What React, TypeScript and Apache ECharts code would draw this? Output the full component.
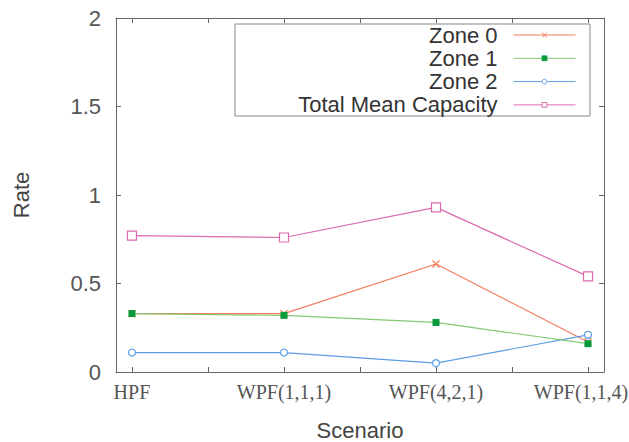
import React, { useEffect, useRef } from "react";
import * as echarts from "echarts";

const categories = ["HPF", "WPF(1,1,1)", "WPF(4,2,1)", "WPF(1,1,4)"];
const zone0 = [0.33, 0.33, 0.61, 0.17];
const zone1 = [0.33, 0.32, 0.28, 0.16];
const zone2 = [0.11, 0.11, 0.05, 0.21];
const totalMean = [0.77, 0.76, 0.93, 0.54];
const seriesNames = ["Zone 0", "Zone 1", "Zone 2", "Total Mean Capacity"];

const toPairs = (arr: number[]) => arr.map((v, i) => [i, v]);

export default function App() {
  const ref = useRef<HTMLDivElement>(null);
  useEffect(() => {
    if (!ref.current) return;
    const chart = echarts.init(ref.current, null, { renderer: "svg" });
    const axisColor = "#666";
    const xTickVals: number[] = [];
    for (let i = 0; i <= (categories.length - 1) * 2; i++) xTickVals.push(i / 2);
    const sans = "Liberation Sans";
    const serif = "Liberation Serif";
    const frameLine = { show: true, onZero: false, lineStyle: { color: axisColor, width: 1 } };
    const xMin = -0.105;
    const xMax = 3.105;
    chart.setOption({
      animation: false,
      backgroundColor: "#fff",
      grid: { left: 116, top: 18, right: 25, bottom: 70, containLabel: false, outerBoundsMode: "none" },
      xAxis: [
        {
          type: "value",
          min: xMin,
          max: xMax,
          axisLine: frameLine,
          axisTick: { show: true, inside: true, length: 5, customValues: xTickVals, lineStyle: { color: axisColor } },
          splitLine: { show: false },
          axisLabel: {
            customValues: categories.map((_, i) => i),
            formatter: (v: number) => {
              const i = Math.round(v);
              const name = categories[i] ?? "";
              return i === categories.length - 1 ? `{last|${name}}` : name;
            },
            fontFamily: serif,
            fontSize: 20,
            color: "#555",
            margin: 10,
            rich: {
              last: { fontFamily: serif, fontSize: 20, color: "#555", padding: [0, 14, 0, 0] },
            },
          },
        },
        {
          type: "value",
          position: "top",
          min: xMin,
          max: xMax,
          axisLine: frameLine,
          axisTick: { show: true, inside: true, length: 5, customValues: xTickVals, lineStyle: { color: axisColor } },
          splitLine: { show: false },
          axisLabel: { show: false },
        },
      ],
      yAxis: [
        {
          type: "value",
          min: 0,
          max: 2,
          interval: 0.5,
          axisLine: frameLine,
          axisTick: { show: true, inside: true, length: 5, lineStyle: { color: axisColor } },
          splitLine: { show: false },
          axisLabel: {
            formatter: (v: number) => String(v),
            fontFamily: sans,
            fontSize: 22,
            color: "#555",
            margin: 15,
          },
        },
        {
          type: "value",
          position: "right",
          min: 0,
          max: 2,
          interval: 0.5,
          axisLine: frameLine,
          axisTick: { show: true, inside: true, length: 5, lineStyle: { color: axisColor } },
          splitLine: { show: false },
          axisLabel: { show: false },
        },
      ],
      legend: {
        orient: "vertical",
        right: 48,
        top: 19,
        align: "right",
        itemWidth: 62,
        itemHeight: 6,
        itemGap: 1.3,
        z: 10,
        data: seriesNames,
        itemStyle: { borderWidth: 1 },
        lineStyle: { width: 1 },
        textStyle: {
          fontFamily: sans,
          fontSize: 22,
          lineHeight: 22,
          color: "#333",
          padding: [0, 11, 0, 0],
        },
      },
      graphic: [
        {
          type: "rect",
          z: 5,
          shape: { x: 235, y: 24, width: 355, height: 92 },
          style: { fill: "#fff", stroke: "#888", lineWidth: 1 },
        },
        {
          type: "text",
          x: 21,
          y: 195,
          rotation: Math.PI / 2,
          style: {
            text: "Rate",
            fontFamily: sans,
            fontSize: 22,
            fill: "#444",
            align: "center",
            verticalAlign: "middle",
          },
        },
        {
          type: "text",
          x: 360,
          y: 430,
          style: {
            text: "Scenario",
            fontFamily: sans,
            fontSize: 22,
            fill: "#444",
            align: "center",
            verticalAlign: "middle",
          },
        },
      ],
      series: [
        {
          name: seriesNames[0],
          type: "line",
          data: toPairs(zone0),
          symbol: "path://M0 0L10 10M10 0L0 10",
          symbolSize: 7,
          showAllSymbol: true,
          lineStyle: { color: "#f47c5c", width: 1.2 },
          itemStyle: { color: "none", borderColor: "#f47c5c", borderWidth: 1.2 },
          z: 3,
        },
        {
          name: seriesNames[1],
          type: "line",
          data: toPairs(zone1),
          symbol: "rect",
          symbolSize: 7,
          lineStyle: { color: "#84c874", width: 1.2 },
          itemStyle: { color: "#0a9a3c", borderColor: "#0a9a3c", borderWidth: 0 },
          z: 4,
        },
        {
          name: seriesNames[2],
          type: "line",
          data: toPairs(zone2),
          symbol: "circle",
          symbolSize: 7,
          lineStyle: { color: "#5c9ee4", width: 1.2 },
          itemStyle: { color: "#fff", borderColor: "#5c9ee4", borderWidth: 1.2 },
          z: 3,
        },
        {
          name: seriesNames[3],
          type: "line",
          data: toPairs(totalMean),
          symbol: "rect",
          symbolSize: 9,
          lineStyle: { color: "#dd6aae", width: 1.2 },
          itemStyle: { color: "#fff", borderColor: "#dd6aae", borderWidth: 1.2 },
          z: 3,
        },
      ],
    });
    return () => chart.dispose();
  }, []);
  return <div ref={ref} style={{ width: 629, height: 442, position: "absolute", left: 0, top: 0 }} />;
}
